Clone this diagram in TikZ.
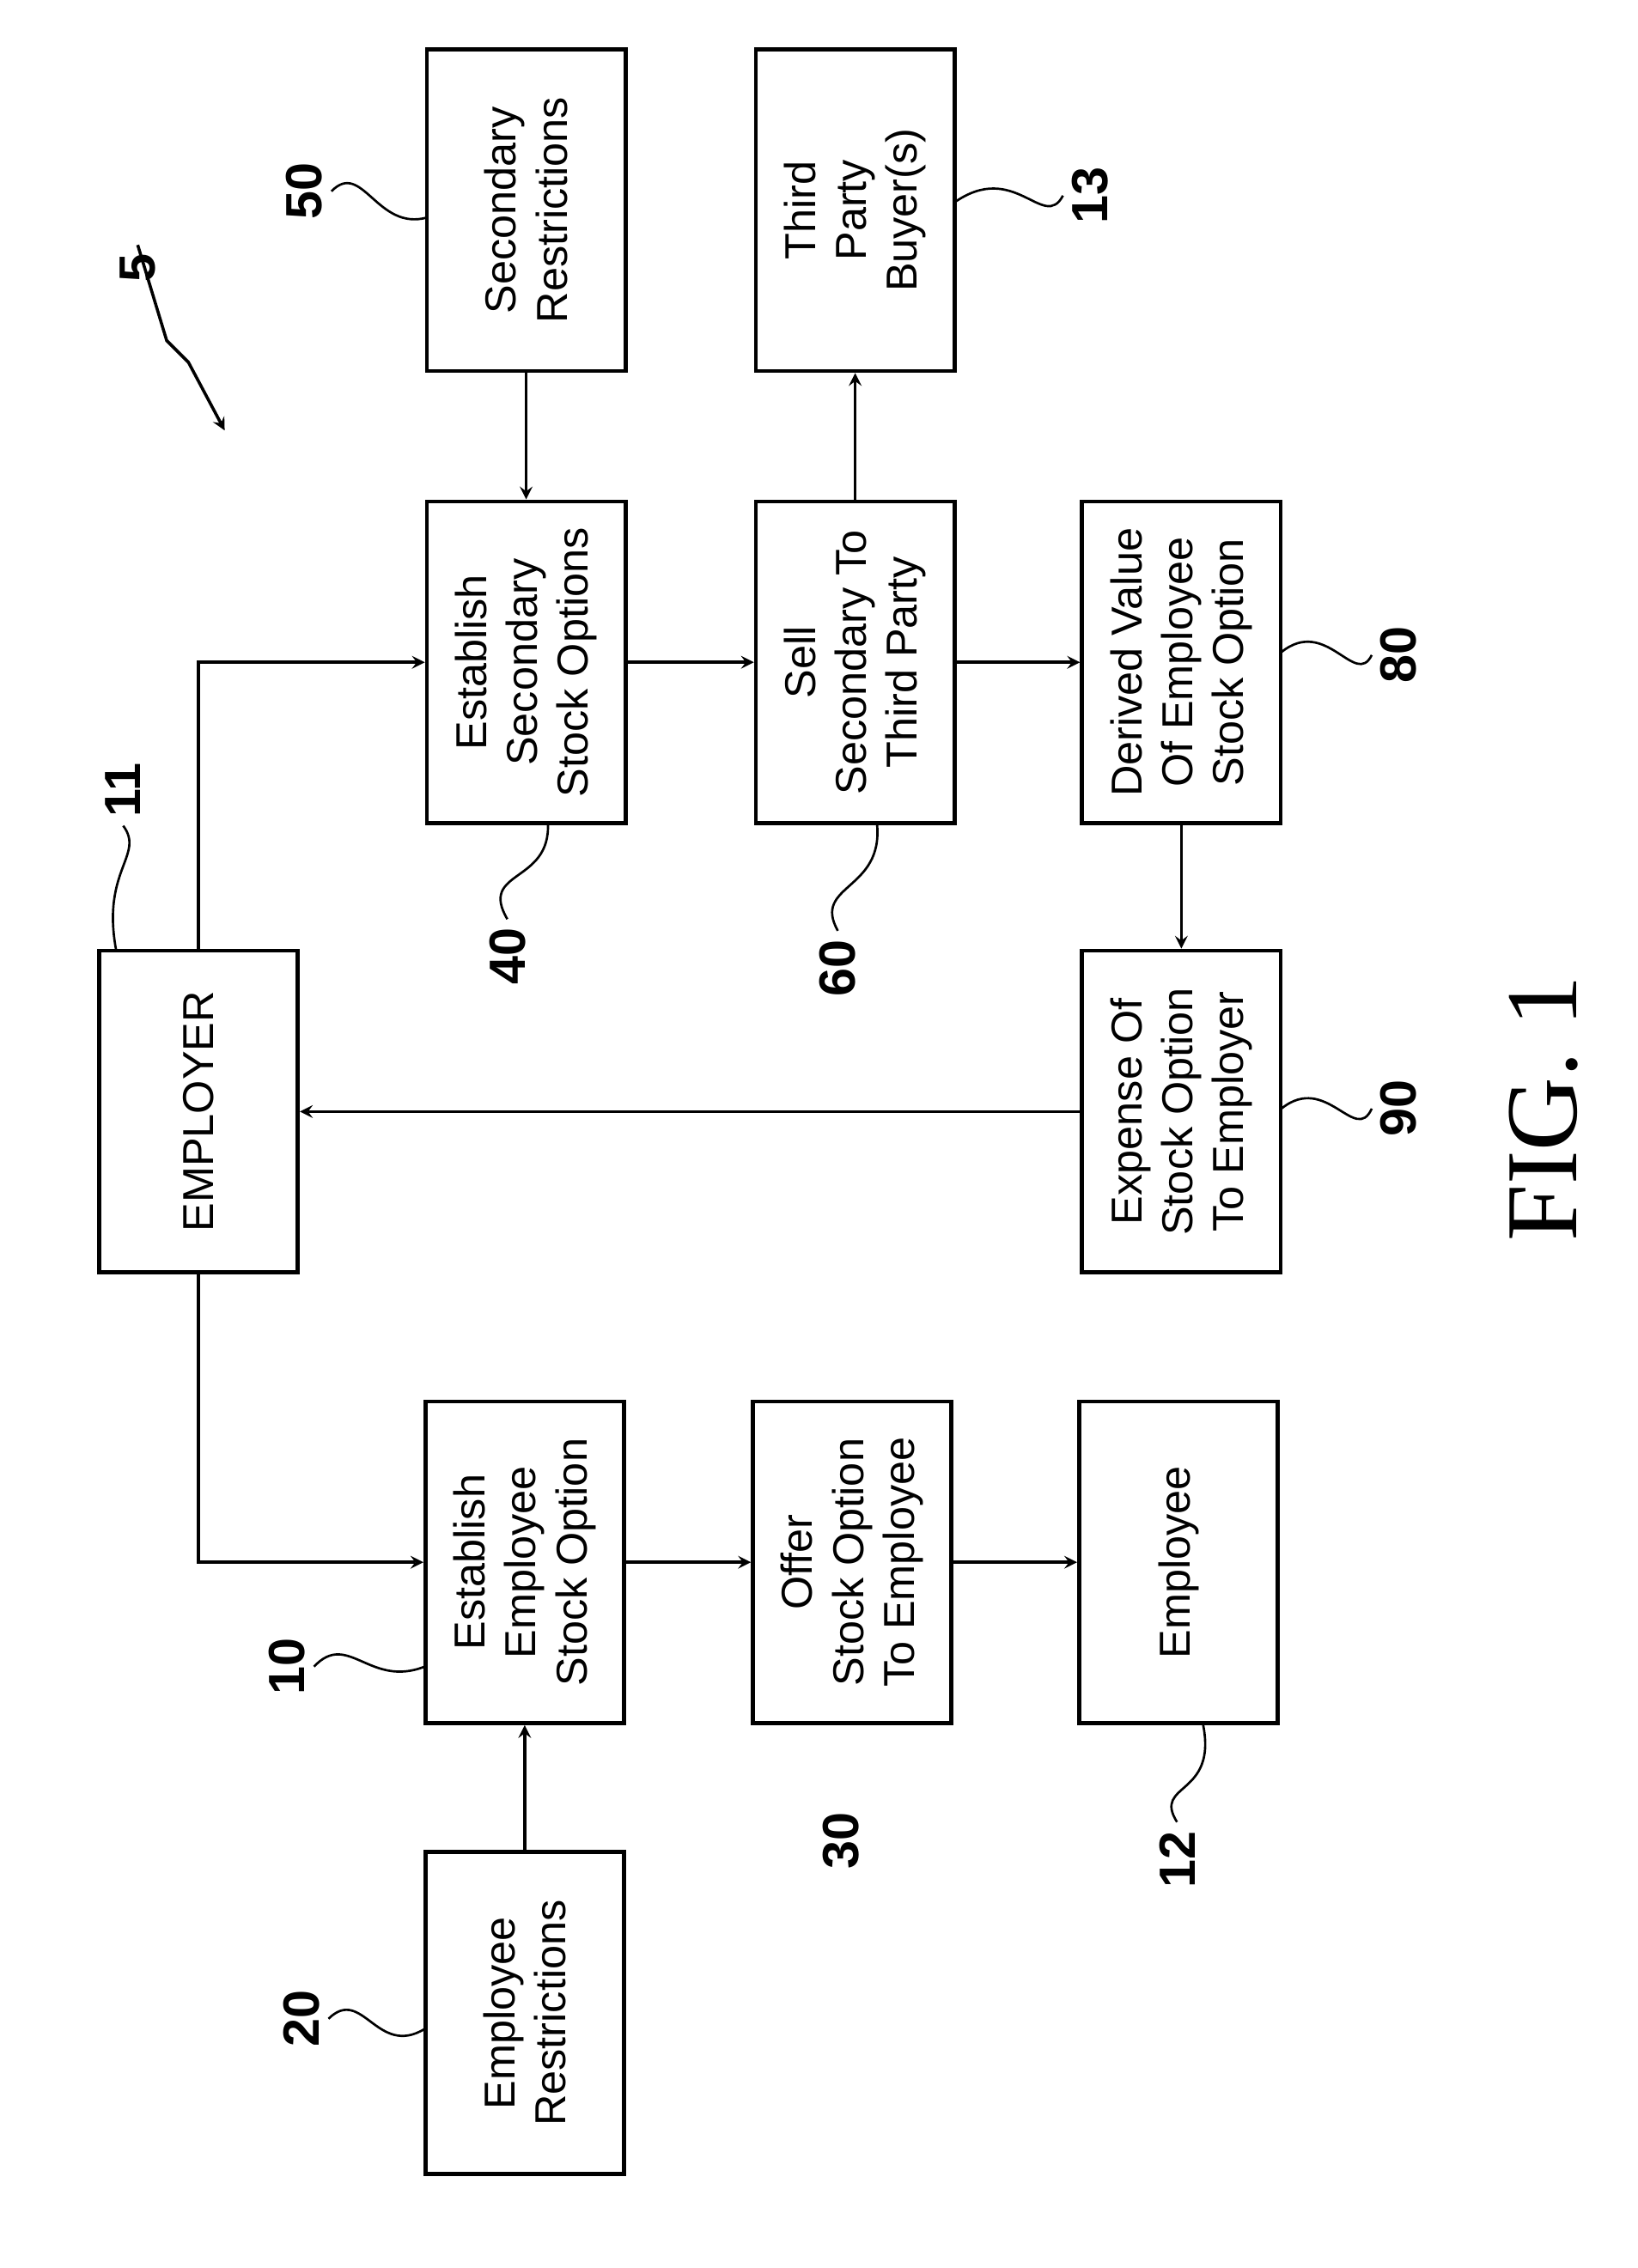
\documentclass[tikz,border=0pt]{standalone}
\usepackage{fontspec}
\setmainfont{Liberation Sans}
\newfontfamily\figfont{Liberation Serif}
\begin{document}
\begin{tikzpicture}[x=0.02cm,y=-0.02cm,
  box/.style={draw, line width=1.6pt, rotate=90, minimum width=4.44cm, minimum height=2.74cm,
    align=center, font=\fontsize{17}{20}\selectfont, inner sep=2pt},
  num/.style={rotate=90, font=\fontsize{20}{22}\selectfont\bfseries},
  arrow/.style={->, >=stealth, line width=1.2pt},
  lead/.style={line width=0.9pt}
]
  \useasboundingbox (0,0) rectangle (1130,1565);
  % boxes
  \node[box] (b11) at (137,767) {EMPLOYER};
  \node[box] (b50) at (363,145) {Secondary\\Restrictions};
  \node[box] (b40) at (363,457) {Establish\\Secondary\\Stock Options};
  \node[box] (b13) at (590,145) {Third\\Party\\Buyer(s)};
  \node[box] (b60) at (590,457) {Sell\\Secondary To\\Third Party};
  \node[box] (b80) at (815,457) {Derived Value\\Of Employee\\Stock Option};
  \node[box] (b90) at (815,767) {Expense Of\\Stock Option\\To Employer};
  \node[box] (b10) at (362,1078) {Establish\\Employee\\Stock Option};
  \node[box] (b30) at (588,1078) {Offer\\Stock Option\\To Employee};
  \node[box] (b12) at (813,1078) {Employee};
  \node[box] (b20) at (362,1389) {Employee\\Restrictions};
  % connectors
  \draw[arrow] (b11.east) |- (b40.north);
  \draw[arrow] (b11.west) |- (b10.north);
  \draw[arrow] (b50.west) -- (b40.east);
  \draw[arrow] (b40.south) -- (b60.north);
  \draw[arrow] (b60.east) -- (b13.west);
  \draw[arrow] (b60.south) -- (b80.north);
  \draw[arrow] (b80.west) -- (b90.east);
  \draw[arrow] (b90.north) -- (b11.south);
  \draw[arrow] (b20.east) -- (b10.west);
  \draw[arrow] (b10.south) -- (b30.north);
  \draw[arrow] (b30.south) -- (b12.north);
  % reference numerals
  \node[num] (l5) at (95,185) {5};
  \node[num] (l11) at (85,545) {11};
  \node[num] (l50) at (210,132) {50};
  \node[num] (l40) at (350,660) {40};
  \node[num] (l60) at (578,668) {60};
  \node[num] (l13) at (752,135) {13};
  \node[num] (l80) at (965,452) {80};
  \node[num] (l90) at (965,765) {90};
  \node[num] (l10) at (198,1150) {10};
  \node[num] (l30) at (580,1270) {30};
  \node[num] (l12) at (812,1283) {12};
  \node[num] (l20) at (208,1393) {20};
  \node[rotate=90, font=\figfont\fontsize{40}{44}\selectfont] (fig) at (1065,765) {FIG. 1};
  % leaders
  \draw[lead] (l50.south) .. controls (250,110) and (260,160) .. (295,150);
  \draw[lead] (l10.south) .. controls (240,1125) and (255,1165) .. (293,1150);
  \draw[lead] (l20.south) .. controls (250,1370) and (260,1420) .. (293,1400);
  \draw[lead] (l40.east) .. controls (330,600) and (380,610) .. (378,568);
  \draw[lead] (l60.east) .. controls (560,610) and (610,615) .. (605,568);
  \draw[lead] (l12.east) .. controls (795,1230) and (840,1240) .. (830,1190);
  \draw[lead] (l13.north) .. controls (720,160) and (700,110) .. (658,140);
  \draw[lead] (l80.north) .. controls (935,475) and (915,425) .. (884,450);
  \draw[lead] (l90.north) .. controls (935,790) and (915,740) .. (884,765);
  \draw[lead] (l11.west) .. controls (100,590) and (70,600) .. (80,655);
  \draw[arrow] (l5.east) -- (115,235) -- (130,250) -- (155,297);
\end{tikzpicture}
\end{document}
